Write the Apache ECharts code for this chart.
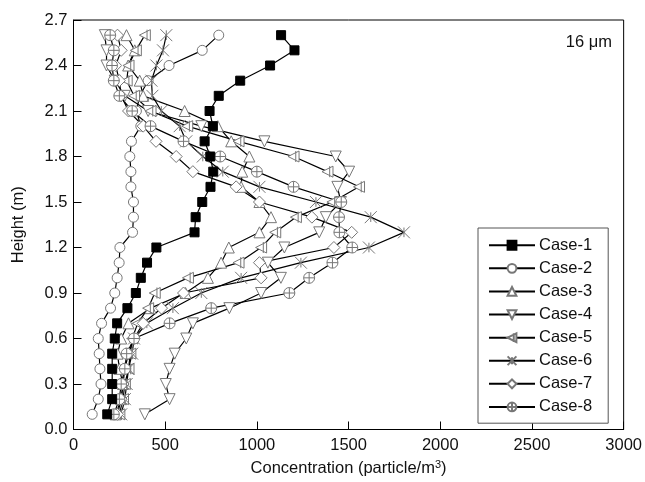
<!DOCTYPE html>
<html><head><meta charset="utf-8">
<script src="https://cdn.jsdelivr.net/npm/echarts@6/dist/echarts.min.js"></script>
<style>html,body{margin:0;padding:0;background:#fff}#c{width:645px;height:482px}</style>
</head><body><div id="c"></div>
<script>
const heights = [0.1,0.2,0.3,0.4,0.5,0.6,0.7,0.8,0.9,1.0,1.1,1.2,1.3,1.4,1.5,1.6,1.7,1.8,1.9,2.0,2.1,2.2,2.3,2.4,2.5,2.6];
const case1 = [184,211,211,211,211,225,238,294,340,367,401,452,660,666,702,747,762,746,715,760,742,792,909,1072,1205,1132];
const case2 = [102,135,150,144,140,135,153,202,225,238,249,253,322,327,327,313,313,307,316,367,343,361,407,521,702,792];
const case3 = [230,260,270,250,240,260,300,420,611,733,805,847,1014,1077,1014,914,920,959,860,787,606,380,361,298,334,289];
const case4 = [389,524,503,524,552,615,651,850,1023,1131,1060,1150,1340,1376,1458,1439,1503,1430,1041,697,407,280,225,180,180,171];
const case5 = [250,270,280,300,310,320,350,407,443,624,900,1023,1100,1213,1412,1557,1385,1200,900,620,420,330,290,300,340,389];
const case6 = [260,280,290,300,320,330,400,542,697,914,1240,1611,1802,1621,1322,1014,814,705,615,579,479,430,425,452,488,506];
const case7 = [240,260,270,280,300,330,380,480,600,1023,1014,1420,1517,1300,1014,887,651,560,450,380,300,260,250,230,260,240];
const case8 = [220,250,260,280,290,330,524,751,1177,1285,1412,1520,1450,1448,1460,1200,1000,800,600,420,320,250,220,210,220,200];
const names = ['Case-1','Case-2','Case-3','Case-4','Case-5','Case-6','Case-7','Case-8'];
const xTicks = [0,500,1000,1500,2000,2500,3000];
const yTicks = [0.0,0.3,0.6,0.9,1.2,1.5,1.8,2.1,2.4,2.7];

const allCases = [case1,case2,case3,case4,case5,case6,case7,case8];
const symbols = [
  {symbol:'rect', rot:0, fill:'#000', border:'#000', size:9},
  {symbol:'circle', rot:0, fill:'#fff', border:'#777', size:10},
  {symbol:'triangle', rot:0, fill:'#fff', border:'#777', size:11},
  {symbol:'triangle', rot:180, fill:'#fff', border:'#777', size:11},
  {symbol:'path://M0,5L10,0L10,10Z M7,0L7,10', rot:0, fill:'#fff', border:'#777', size:11},
  {symbol:'path://M0,0L10,10M10,0L0,10M5,1L5,9', rot:0, fill:'none', border:'#777', size:12},
  {symbol:'diamond', rot:0, fill:'#fff', border:'#777', size:12},
  {symbol:'path://M5,0A5,5,0,1,1,4.99,0Z M5,0L5,10 M0,5L10,5', rot:0, fill:'#fff', border:'#777', size:11}
];

const series = allCases.map((vals,i)=>({
  name: names[i],
  type: 'line',
  data: heights.map((h,j)=>[vals[j], h]),
  symbol: symbols[i].symbol,
  symbolRotate: symbols[i].rot,
  symbolSize: symbols[i].size,
  showAllSymbol: true,
  lineStyle: {color:'#000', width:1.2},
  itemStyle: {color: symbols[i].fill, borderColor: symbols[i].border, borderWidth: 1},
  emphasis: {disabled:true},
  z: i===0 ? 10 : 2
}));

const chart = echarts.init(document.getElementById('c'), null, {renderer:'canvas'});
const font = 'Liberation Sans, Arial, sans-serif';
chart.setOption({
  animation: false,
  backgroundColor: '#fff',
  textStyle: {fontFamily: font},
  grid: {left: 73.5, right: 19.5, top: 20, bottom: 52, show: true, borderColor: '#000', borderWidth: 1},
  title: {text: '16 μm', right: 28, top: 29, textStyle: {fontFamily: font, fontSize: 16.5, fontWeight: 'normal', color: '#111'}},
  legend: {
    orient: 'vertical', left: 478, top: 228,
    data: names, itemWidth: 46, itemHeight: 11, itemGap: 4.6,
    padding: [8, 16, 7, 10],
    borderColor: '#555', borderWidth: 1, backgroundColor: '#fff',
    textStyle: {fontFamily: font, fontSize: 16.5, color: '#111', lineHeight: 18.5, padding: [0,0,0,-1]}
  },
  xAxis: {
    type: 'value', min: 0, max: 3000, interval: 500,
    name: 'Concentration (particle/m{sup|3})', nameLocation: 'middle', nameGap: 30,
    nameTextStyle: {fontFamily: font, fontSize: 16.5, color: '#111', rich: {sup: {fontSize: 11, verticalAlign: 'top', padding: [0,0,7,0], color:'#111'}}},
    axisLine: {lineStyle: {color: '#000'}},
    axisTick: {inside: true, length: 8, lineStyle: {color: '#000'}},
    axisLabel: {fontFamily: font, fontSize: 16.5, color: '#111', margin: 7, formatter: v => xTicks.includes(v) ? String(v) : ''},
    splitLine: {show: false}
  },
  yAxis: {
    type: 'value', min: 0, max: 2.7, interval: 0.3,
    name: 'Height (m)', nameLocation: 'middle', nameGap: 47, nameRotate: 90,
    nameTextStyle: {fontFamily: font, fontSize: 16.5, color: '#111'},
    axisLine: {lineStyle: {color: '#000'}},
    axisTick: {inside: true, length: 8, lineStyle: {color: '#000'}},
    axisLabel: {fontFamily: font, fontSize: 16.5, color: '#111', margin: 6, formatter: v => {
      const t = yTicks.find(y => Math.abs(y - v) < 1e-6);
      return t === undefined ? '' : t.toFixed(1);
    }},
    splitLine: {show: false}
  },
  series: series
});
</script></body></html>
